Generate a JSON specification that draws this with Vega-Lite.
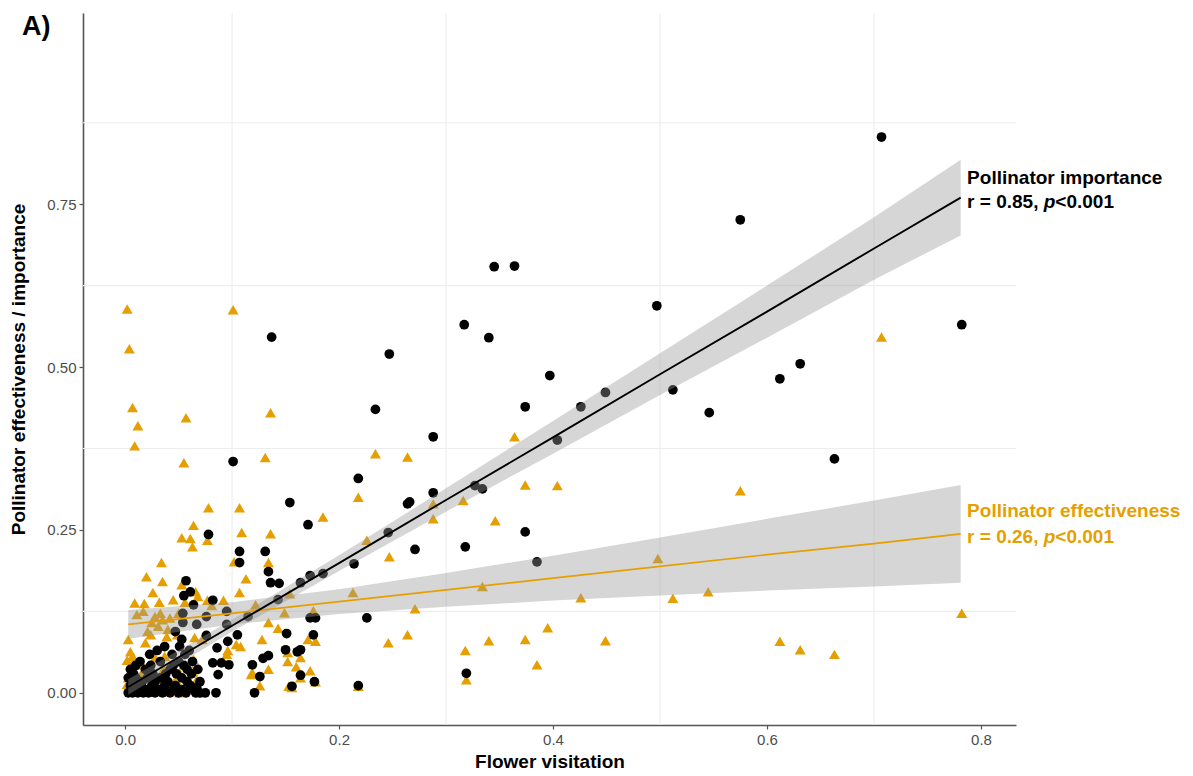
{
  "$schema": "https://vega.github.io/schema/vega-lite/v6.json",
  "width": 933,
  "height": 712,
  "autosize": {"type": "none"},
  "padding": {"left": 83, "top": 13, "right": 177, "bottom": 51},
  "background": "white",
  "config": {
    "view": {"stroke": null},
    "font": "Liberation Sans",
    "axis": {"grid": false, "labelFontSize": 15, "labelColor": "#4d4d4d", "labelFont": "Liberation Sans", "labelPadding": 3, "tickColor": "#555555", "tickSize": 4, "tickWidth": 1.2, "domainColor": "#555555", "domainWidth": 1.6, "titleFont": "Liberation Sans", "titleFontSize": 19, "titleFontWeight": "bold", "titleColor": "#000000"},
    "axisX": {"titlePadding": 5},
    "axisY": {"titlePadding": 18}
  },
  "title": {"text": "A)", "anchor": "start", "frame": "group", "orient": "top", "offset": 0, "dx": -61, "dy": 50, "baseline": "alphabetic", "fontSize": 27, "fontWeight": "bold", "font": "Liberation Sans", "color": "#000000"},
  "datasets": {
    "eff": [
      {"x":0.002,"y":0.589},{"x":0.101,"y":0.588},{"x":0.004,"y":0.528},{"x":0.007,"y":0.438},{"x":0.012,"y":0.410},{"x":0.009,"y":0.379},{"x":0.057,"y":0.422},{"x":0.136,"y":0.430},{"x":0.055,"y":0.353},{"x":0.131,"y":0.361},{"x":0.234,"y":0.367},{"x":0.185,"y":0.270},{"x":0.218,"y":0.300},{"x":0.264,"y":0.362},{"x":0.364,"y":0.393},{"x":0.374,"y":0.319},{"x":0.404,"y":0.318},{"x":0.346,"y":0.264},{"x":0.288,"y":0.290},{"x":0.288,"y":0.267},{"x":0.316,"y":0.295},{"x":0.226,"y":0.234},{"x":0.247,"y":0.209},{"x":0.078,"y":0.284},{"x":0.107,"y":0.284},{"x":0.109,"y":0.246},{"x":0.136,"y":0.244},{"x":0.077,"y":0.234},{"x":0.134,"y":0.200},{"x":0.102,"y":0.201},{"x":0.113,"y":0.175},{"x":0.107,"y":0.154},{"x":0.092,"y":0.142},{"x":0.077,"y":0.142},{"x":0.081,"y":0.134},{"x":0.122,"y":0.135},{"x":0.149,"y":0.123},{"x":0.176,"y":0.126},{"x":0.213,"y":0.154},{"x":0.271,"y":0.129},{"x":0.334,"y":0.163},{"x":0.426,"y":0.146},{"x":0.134,"y":0.108},{"x":0.143,"y":0.099},{"x":0.128,"y":0.082},{"x":0.104,"y":0.074},{"x":0.096,"y":0.065},{"x":0.171,"y":0.082},{"x":0.178,"y":0.079},{"x":0.264,"y":0.089},{"x":0.246,"y":0.077},{"x":0.340,"y":0.080},{"x":0.374,"y":0.082},{"x":0.395,"y":0.100},{"x":0.385,"y":0.043},{"x":0.318,"y":0.065},{"x":0.319,"y":0.020},{"x":0.164,"y":0.054},{"x":0.152,"y":0.048},{"x":0.160,"y":0.040},{"x":0.134,"y":0.036},{"x":0.119,"y":0.031},{"x":0.173,"y":0.034},{"x":0.126,"y":0.011},{"x":0.156,"y":0.008},{"x":0.164,"y":0.023},{"x":0.178,"y":0.017},{"x":0.218,"y":0.010},{"x":0.707,"y":0.546},{"x":0.575,"y":0.310},{"x":0.498,"y":0.206},{"x":0.512,"y":0.145},{"x":0.545,"y":0.155},{"x":0.449,"y":0.080},{"x":0.612,"y":0.079},{"x":0.631,"y":0.066},{"x":0.663,"y":0.059},{"x":0.782,"y":0.122},{"x":0.154,"y":0.152},
      {"x":0.064,"y":0.257},{"x":0.053,"y":0.238},{"x":0.061,"y":0.237},{"x":0.063,"y":0.224},{"x":0.034,"y":0.200},{"x":0.020,"y":0.178},{"x":0.035,"y":0.171},{"x":0.053,"y":0.166},{"x":0.026,"y":0.154},{"x":0.066,"y":0.155},{"x":0.068,"y":0.148},{"x":0.045,"y":0.143},{"x":0.009,"y":0.138},{"x":0.018,"y":0.137},{"x":0.032,"y":0.139},{"x":0.056,"y":0.139},{"x":0.011,"y":0.120},{"x":0.017,"y":0.125},{"x":0.028,"y":0.117},{"x":0.035,"y":0.112},{"x":0.042,"y":0.115},{"x":0.050,"y":0.122},{"x":0.031,"y":0.102},{"x":0.040,"y":0.097},{"x":0.024,"y":0.089},{"x":0.039,"y":0.086},{"x":0.049,"y":0.089},{"x":0.065,"y":0.085},{"x":0.003,"y":0.082},{"x":0.019,"y":0.077},{"x":0.005,"y":0.063},{"x":0.007,"y":0.056},{"x":0.002,"y":0.050},{"x":0.007,"y":0.045},{"x":0.016,"y":0.043},{"x":0.028,"y":0.054},{"x":0.037,"y":0.056},{"x":0.036,"y":0.036},{"x":0.016,"y":0.031},{"x":0.003,"y":0.023},{"x":0.002,"y":0.013},{"x":0.051,"y":0.031},{"x":0.063,"y":0.033},{"x":0.067,"y":0.020},{"x":0.033,"y":0.017},{"x":0.050,"y":0.013},{"x":0.070,"y":0.000},{"x":0.051,"y":0.000},{"x":0.095,"y":0.059},{"x":0.108,"y":0.071},{"x":0.118,"y":0.028},{"x":0.152,"y":0.062},{"x":0.153,"y":0.010},{"x":0.025,"y":0.108},{"x":0.033,"y":0.122},{"x":0.021,"y":0.094},{"x":0.072,"y":0.082},{"x":0.064,"y":0.051},{"x":0.044,"y":0.002},{"x":0.049,"y":0.025}
    ],
    "imp": [
      {"x":0.707,"y":0.853},{"x":0.575,"y":0.726},{"x":0.782,"y":0.565},{"x":0.345,"y":0.654},{"x":0.364,"y":0.655},{"x":0.497,"y":0.594},{"x":0.317,"y":0.565},{"x":0.340,"y":0.545},{"x":0.137,"y":0.546},{"x":0.247,"y":0.520},{"x":0.397,"y":0.487},{"x":0.631,"y":0.505},{"x":0.612,"y":0.482},{"x":0.449,"y":0.461},{"x":0.512,"y":0.465},{"x":0.546,"y":0.430},{"x":0.426,"y":0.439},{"x":0.374,"y":0.439},{"x":0.404,"y":0.388},{"x":0.234,"y":0.435},{"x":0.288,"y":0.393},{"x":0.663,"y":0.359},{"x":0.101,"y":0.355},{"x":0.154,"y":0.292},{"x":0.264,"y":0.290},{"x":0.266,"y":0.293},{"x":0.288,"y":0.307},{"x":0.327,"y":0.318},{"x":0.334,"y":0.313},{"x":0.374,"y":0.247},{"x":0.385,"y":0.201},{"x":0.318,"y":0.224},{"x":0.271,"y":0.220},{"x":0.246,"y":0.246},{"x":0.218,"y":0.329},{"x":0.171,"y":0.258},{"x":0.078,"y":0.243},{"x":0.107,"y":0.217},{"x":0.107,"y":0.200},{"x":0.131,"y":0.217},{"x":0.134,"y":0.186},{"x":0.136,"y":0.169},{"x":0.144,"y":0.168},{"x":0.164,"y":0.169},{"x":0.173,"y":0.180},{"x":0.185,"y":0.183},{"x":0.214,"y":0.198},{"x":0.226,"y":0.115},{"x":0.173,"y":0.115},{"x":0.178,"y":0.115},{"x":0.176,"y":0.089},{"x":0.082,"y":0.142},{"x":0.095,"y":0.125},{"x":0.151,"y":0.091},{"x":0.150,"y":0.066},{"x":0.161,"y":0.063},{"x":0.164,"y":0.066},{"x":0.134,"y":0.057},{"x":0.129,"y":0.053},{"x":0.119,"y":0.043},{"x":0.126,"y":0.025},{"x":0.121,"y":0.000},{"x":0.156,"y":0.010},{"x":0.164,"y":0.027},{"x":0.177,"y":0.017},{"x":0.218,"y":0.011},{"x":0.319,"y":0.030},{"x":0.082,"y":0.046},{"x":0.090,"y":0.046},{"x":0.097,"y":0.043},{"x":0.087,"y":0.028},{"x":0.085,"y":0.000},{"x":0.057,"y":0.172},{"x":0.061,"y":0.155},{"x":0.055,"y":0.149},{"x":0.064,"y":0.135},{"x":0.054,"y":0.122},{"x":0.143,"y":0.143},{"x":0.115,"y":0.117},{"x":0.076,"y":0.117},{"x":0.067,"y":0.105},{"x":0.054,"y":0.108},{"x":0.076,"y":0.088},{"x":0.086,"y":0.069},{"x":0.096,"y":0.079},{"x":0.105,"y":0.089},{"x":0.095,"y":0.105},{"x":0.070,"y":0.000},{"x":0.067,"y":0.008},{"x":0.068,"y":0.036},
      {"x":0.003,"y":0.000},{"x":0.007,"y":0.000},{"x":0.012,"y":0.000},{"x":0.017,"y":0.000},{"x":0.022,"y":0.000},{"x":0.028,"y":0.000},{"x":0.035,"y":0.000},{"x":0.042,"y":0.000},{"x":0.050,"y":0.000},{"x":0.057,"y":0.000},{"x":0.066,"y":0.000},{"x":0.075,"y":0.000},
      {"x":0.005,"y":0.011},{"x":0.014,"y":0.011},{"x":0.025,"y":0.011},{"x":0.037,"y":0.011},{"x":0.047,"y":0.011},{"x":0.061,"y":0.011},
      {"x":0.003,"y":0.023},{"x":0.010,"y":0.023},{"x":0.021,"y":0.023},{"x":0.033,"y":0.023},{"x":0.053,"y":0.023},
      {"x":0.005,"y":0.036},{"x":0.019,"y":0.036},{"x":0.042,"y":0.036},{"x":0.058,"y":0.036},
      {"x":0.014,"y":0.048},{"x":0.033,"y":0.048},{"x":0.050,"y":0.048},{"x":0.063,"y":0.048},
      {"x":0.023,"y":0.059},{"x":0.044,"y":0.059},{"x":0.056,"y":0.059},
      {"x":0.037,"y":0.071},{"x":0.051,"y":0.071},{"x":0.053,"y":0.082},{"x":0.047,"y":0.094},
      {"x":0.009,"y":0.005},{"x":0.019,"y":0.005},{"x":0.031,"y":0.005},{"x":0.045,"y":0.005},{"x":0.053,"y":0.005},{"x":0.064,"y":0.005},
      {"x":0.007,"y":0.017},{"x":0.016,"y":0.017},{"x":0.028,"y":0.017},{"x":0.040,"y":0.017},{"x":0.058,"y":0.017},{"x":0.070,"y":0.017},
      {"x":0.008,"y":0.029},{"x":0.026,"y":0.029},{"x":0.038,"y":0.029},{"x":0.048,"y":0.029},{"x":0.062,"y":0.029},
      {"x":0.010,"y":0.042},{"x":0.024,"y":0.042},{"x":0.045,"y":0.042},{"x":0.055,"y":0.042},
      {"x":0.030,"y":0.065},{"x":0.060,"y":0.065}
    ],
    "fit": [
      {"s":"imp","x":0.003,"fit":0.009,"lo":-0.003,"hi":0.021},
      {"s":"imp","x":0.1,"fit":0.103,"lo":0.094,"hi":0.112},
      {"s":"imp","x":0.2,"fit":0.199,"lo":0.187,"hi":0.211},
      {"s":"imp","x":0.3,"fit":0.296,"lo":0.278,"hi":0.314},
      {"s":"imp","x":0.4,"fit":0.392,"lo":0.367,"hi":0.417},
      {"s":"imp","x":0.5,"fit":0.489,"lo":0.457,"hi":0.521},
      {"s":"imp","x":0.6,"fit":0.585,"lo":0.545,"hi":0.625},
      {"s":"imp","x":0.7,"fit":0.682,"lo":0.634,"hi":0.730},
      {"s":"imp","x":0.781,"fit":0.760,"lo":0.702,"hi":0.818},
      {"s":"eff","x":0.003,"fit":0.105,"lo":0.083,"hi":0.127},
      {"s":"eff","x":0.1,"fit":0.122,"lo":0.105,"hi":0.139},
      {"s":"eff","x":0.2,"fit":0.140,"lo":0.121,"hi":0.159},
      {"s":"eff","x":0.3,"fit":0.158,"lo":0.132,"hi":0.184},
      {"s":"eff","x":0.4,"fit":0.176,"lo":0.1415,"hi":0.2105},
      {"s":"eff","x":0.5,"fit":0.194,"lo":0.1495,"hi":0.2385},
      {"s":"eff","x":0.6,"fit":0.212,"lo":0.157,"hi":0.267},
      {"s":"eff","x":0.7,"fit":0.229,"lo":0.163,"hi":0.295},
      {"s":"eff","x":0.781,"fit":0.244,"lo":0.169,"hi":0.319}
    ],
    "ann1": [
      {"s":"imp","x":0.787,"y":0.781,"t":"Pollinator importance"},
      {"s":"eff","x":0.787,"y":0.270,"t":"Pollinator effectiveness"}
    ],
    "ann2": [
      {"s":"imp","x":0.787,"y":0.744,"a":"r = 0.85, ","p":"p","b":"<0.001"},
      {"s":"eff","x":0.787,"y":0.230,"a":"r = 0.26, ","p":"p","b":"<0.001"}
    ]
  },
  "layer": [
    {
      "data": {"values": [{"g":0.1},{"g":0.3},{"g":0.5},{"g":0.7}]},
      "mark": {"type": "rule", "color": "#ededed", "strokeWidth": 1.1},
      "encoding": {
        "x": {"field": "g", "type": "quantitative", "title": "Flower visitation", "scale": {"domain": [-0.0393, 0.8327], "nice": false, "zero": false},
          "axis": {"values": [0, 0.2, 0.4, 0.6, 0.8], "format": ".1f"}}
      }
    },
    {
      "data": {"values": [{"g":0.125},{"g":0.375},{"g":0.625},{"g":0.875}]},
      "mark": {"type": "rule", "color": "#ededed", "strokeWidth": 1.1},
      "encoding": {
        "y": {"field": "g", "type": "quantitative", "title": "Pollinator effectiveness / importance", "scale": {"domain": [-0.0494, 1.0434], "nice": false, "zero": false},
          "axis": {"values": [0, 0.25, 0.5, 0.75], "format": ".2f"}}
      }
    },
    {
      "data": {"name": "eff"},
      "mark": {"type": "point", "shape": "triangle-up", "filled": true, "size": 120, "color": "#E69F00", "opacity": 1, "strokeWidth": 0},
      "encoding": {
        "x": {"field": "x", "type": "quantitative", "title": "Flower visitation"},
        "y": {"field": "y", "type": "quantitative", "title": "Pollinator effectiveness / importance"}
      }
    },
    {
      "data": {"name": "imp"},
      "mark": {"type": "point", "shape": "circle", "filled": true, "size": 95, "color": "#000000", "opacity": 1, "strokeWidth": 0},
      "encoding": {
        "x": {"field": "x", "type": "quantitative", "title": "Flower visitation"},
        "y": {"field": "y", "type": "quantitative", "title": "Pollinator effectiveness / importance"}
      }
    },
    {
      "data": {"name": "fit"},
      "mark": {"type": "area", "color": "#999999", "opacity": 0.4},
      "encoding": {
        "x": {"field": "x", "type": "quantitative", "title": "Flower visitation"},
        "y": {"field": "lo", "type": "quantitative", "title": "Pollinator effectiveness / importance"},
        "y2": {"field": "hi"},
        "detail": {"field": "s", "type": "nominal"}
      }
    },
    {
      "data": {"name": "fit"},
      "transform": [{"filter": "datum.s === 'eff'"}],
      "mark": {"type": "line", "color": "#E69F00", "strokeWidth": 1.7},
      "encoding": {
        "x": {"field": "x", "type": "quantitative", "title": "Flower visitation"},
        "y": {"field": "fit", "type": "quantitative", "title": "Pollinator effectiveness / importance"}
      }
    },
    {
      "data": {"name": "fit"},
      "transform": [{"filter": "datum.s === 'imp'"}],
      "mark": {"type": "line", "color": "#000000", "strokeWidth": 1.9},
      "encoding": {
        "x": {"field": "x", "type": "quantitative", "title": "Flower visitation"},
        "y": {"field": "fit", "type": "quantitative", "title": "Pollinator effectiveness / importance"}
      }
    },
    {
      "data": {"name": "ann1"},
      "mark": {"type": "text", "align": "left", "baseline": "alphabetic", "fontSize": 19, "fontWeight": "bold", "font": "Liberation Sans"},
      "encoding": {
        "x": {"field": "x", "type": "quantitative", "title": "Flower visitation"},
        "y": {"field": "y", "type": "quantitative", "title": "Pollinator effectiveness / importance"},
        "text": {"field": "t"},
        "color": {"field": "s", "type": "nominal", "scale": {"domain": ["imp", "eff"], "range": ["#000000", "#E69F00"]}, "legend": null}
      }
    },
    {
      "data": {"name": "ann2"},
      "mark": {"type": "text", "align": "left", "baseline": "alphabetic", "fontSize": 19, "fontWeight": "bold", "font": "Liberation Sans"},
      "encoding": {
        "x": {"field": "x", "type": "quantitative", "title": "Flower visitation"},
        "y": {"field": "y", "type": "quantitative", "title": "Pollinator effectiveness / importance"},
        "text": {"field": "a"},
        "color": {"field": "s", "type": "nominal", "scale": {"domain": ["imp", "eff"], "range": ["#000000", "#E69F00"]}, "legend": null}
      }
    },
    {
      "data": {"name": "ann2"},
      "mark": {"type": "text", "align": "left", "baseline": "alphabetic", "fontSize": 19, "fontWeight": "bold", "fontStyle": "italic", "font": "Liberation Sans", "dx": 76.6},
      "encoding": {
        "x": {"field": "x", "type": "quantitative", "title": "Flower visitation"},
        "y": {"field": "y", "type": "quantitative", "title": "Pollinator effectiveness / importance"},
        "text": {"field": "p"},
        "color": {"field": "s", "type": "nominal", "scale": {"domain": ["imp", "eff"], "range": ["#000000", "#E69F00"]}, "legend": null}
      }
    },
    {
      "data": {"name": "ann2"},
      "mark": {"type": "text", "align": "left", "baseline": "alphabetic", "fontSize": 19, "fontWeight": "bold", "font": "Liberation Sans", "dx": 88.2},
      "encoding": {
        "x": {"field": "x", "type": "quantitative", "title": "Flower visitation"},
        "y": {"field": "y", "type": "quantitative", "title": "Pollinator effectiveness / importance"},
        "text": {"field": "b"},
        "color": {"field": "s", "type": "nominal", "scale": {"domain": ["imp", "eff"], "range": ["#000000", "#E69F00"]}, "legend": null}
      }
    }
  ]
}
